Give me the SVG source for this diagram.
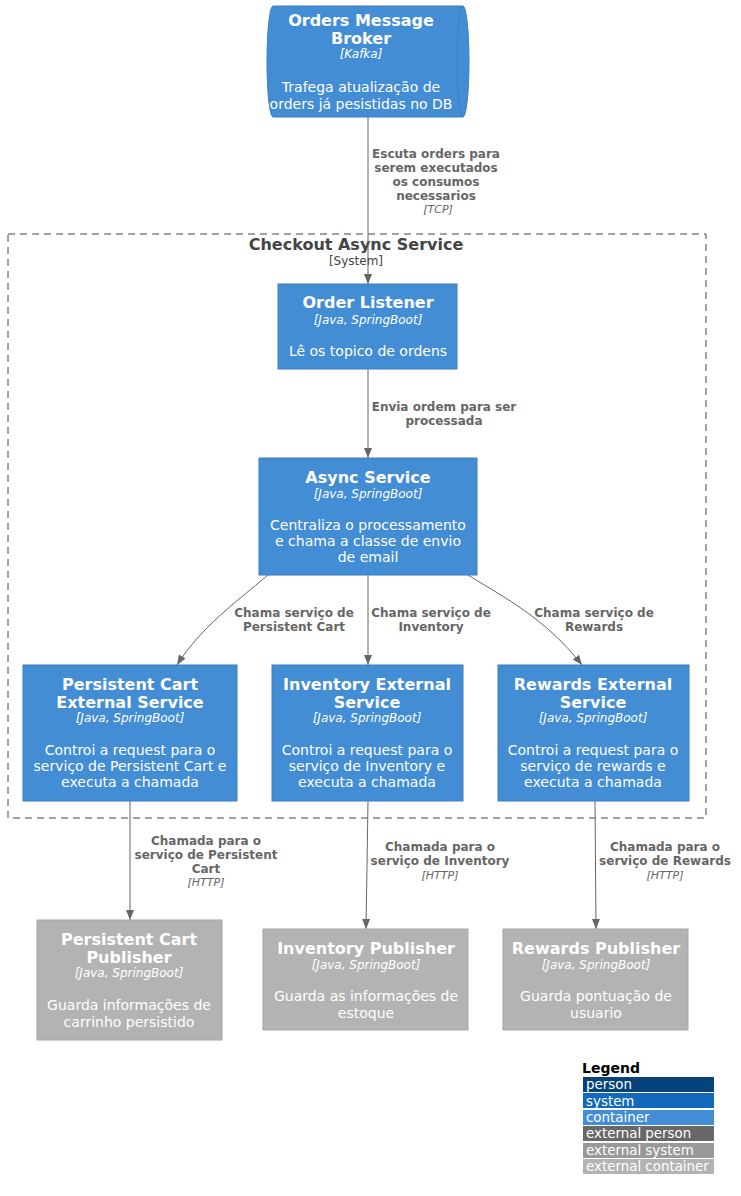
<svg xmlns="http://www.w3.org/2000/svg" width="741" height="1196" viewBox="0 0 741 1196">
<style>
text{font-family:"DejaVu Sans","Liberation Sans",sans-serif;text-anchor:middle}
.c{fill:#438DD5;stroke:#3C7FC0;stroke-width:1}
.x{fill:#B3B3B3;stroke:#A6A6A6;stroke-width:1}
.t{font-size:16px;font-weight:bold;fill:#FFFFFF}
.k{font-size:12px;font-style:italic;fill:#FFFFFF}
.d{font-size:14px;fill:#FFFFFF}
.l{font-size:12px;font-weight:bold;fill:#666666}
.lk{font-size:11px;font-style:italic;fill:#666666}
.e{stroke:#666666;stroke-width:1;fill:none;marker-end:url(#a)}
.lg{font-size:13.4px;fill:#FFFFFF;text-anchor:start}
</style>
<defs>
<marker id="a" viewBox="0 0 10 10" refX="10" refY="5" markerWidth="10" markerHeight="10" markerUnits="userSpaceOnUse" orient="auto">
<path d="M0,1 L10,5 L0,9 Z" fill="#666666"/>
</marker>
</defs>
<rect width="741" height="1196" fill="#FFFFFF"/>

<g id="boundary">
<rect x="8" y="234" width="698" height="584" fill="none" stroke="#444444" stroke-width="1" stroke-dasharray="7,5"/>
<text x="356" y="250" style="font-size:16px;font-weight:bold;fill:#444444">Checkout Async Service</text>
<text x="356" y="265" style="font-size:12px;fill:#444444">[System]</text>
</g>

<g id="connectors">
<line class="e" x1="368" y1="117" x2="368" y2="284"/>
<text class="l" x="436" y="158">Escuta orders para</text>
<text class="l" x="436" y="172">serem executados</text>
<text class="l" x="436" y="186">os consumos</text>
<text class="l" x="436" y="200">necessarios</text>
<text class="lk" x="438" y="213">[TCP]</text>

<line class="e" x1="368" y1="369" x2="368" y2="458"/>
<text class="l" x="444" y="411">Envia ordem para ser</text>
<text class="l" x="444" y="425">processada</text>

<path class="e" d="M268,575 C235,603 200,628 177,665"/>
<text class="l" x="294" y="617">Chama serviço de</text>
<text class="l" x="294" y="631">Persistent Cart</text>

<line class="e" x1="368" y1="575" x2="368" y2="665"/>
<text class="l" x="431" y="617">Chama serviço de</text>
<text class="l" x="431" y="631">Inventory</text>

<path class="e" d="M468,575 C505,598 545,618 582,665"/>
<text class="l" x="594" y="617">Chama serviço de</text>
<text class="l" x="594" y="631">Rewards</text>

<line class="e" x1="130" y1="801" x2="130" y2="920"/>
<text class="l" x="206" y="845">Chamada para o</text>
<text class="l" x="206" y="859">serviço de Persistent</text>
<text class="l" x="206" y="873">Cart</text>
<text class="lk" x="206" y="886">[HTTP]</text>

<line class="e" x1="368" y1="801" x2="366" y2="929"/>
<text class="l" x="440" y="851">Chamada para o</text>
<text class="l" x="440" y="865">serviço de Inventory</text>
<text class="lk" x="440" y="879">[HTTP]</text>

<line class="e" x1="595" y1="801" x2="596" y2="929"/>
<text class="l" x="665" y="851">Chamada para o</text>
<text class="l" x="665" y="865">serviço de Rewards</text>
<text class="lk" x="665" y="879">[HTTP]</text>
</g>

<g id="broker">
<path class="c" d="M273,6 H463 A6,55.5 0 0 1 463,117 H273 A6,55.5 0 0 1 273,6 Z"/>
<path d="M463,6 A6,55.5 0 0 0 463,117" fill="none" stroke="#3C7FC0"/>
<text class="t" x="361" y="26">Orders Message</text>
<text class="t" x="361" y="44">Broker</text>
<text class="k" x="361" y="58">[Kafka]</text>
<text class="d" x="361" y="92">Trafega atualização de</text>
<text class="d" x="361" y="109">orders já pesistidas no DB</text>
</g>

<g id="order-listener">
<rect class="c" x="278" y="284" width="179" height="85"/>
<text class="t" x="368" y="308">Order Listener</text>
<text class="k" x="368" y="324">[Java, SpringBoot]</text>
<text class="d" x="368" y="356">Lê os topico de ordens</text>
</g>

<g id="async-service">
<rect class="c" x="259" y="458" width="218" height="117"/>
<text class="t" x="368" y="483">Async Service</text>
<text class="k" x="368" y="498">[Java, SpringBoot]</text>
<text class="d" x="368" y="530">Centraliza o processamento</text>
<text class="d" x="368" y="546">e chama a classe de envio</text>
<text class="d" x="368" y="562">de email</text>
</g>

<g id="persistent-cart-external">
<rect class="c" x="23" y="665" width="214" height="136"/>
<text class="t" x="130" y="690">Persistent Cart</text>
<text class="t" x="130" y="708">External Service</text>
<text class="k" x="130" y="722">[Java, SpringBoot]</text>
<text class="d" x="130" y="755">Controi a request para o</text>
<text class="d" x="130" y="771">serviço de Persistent Cart e</text>
<text class="d" x="130" y="787">executa a chamada</text>
</g>

<g id="inventory-external">
<rect class="c" x="272" y="665" width="191" height="136"/>
<text class="t" x="367" y="690">Inventory External</text>
<text class="t" x="367" y="708">Service</text>
<text class="k" x="367" y="722">[Java, SpringBoot]</text>
<text class="d" x="367" y="755">Controi a request para o</text>
<text class="d" x="367" y="771">serviço de Inventory e</text>
<text class="d" x="367" y="787">executa a chamada</text>
</g>

<g id="rewards-external">
<rect class="c" x="498" y="665" width="191" height="136"/>
<text class="t" x="593" y="690">Rewards External</text>
<text class="t" x="593" y="708">Service</text>
<text class="k" x="593" y="722">[Java, SpringBoot]</text>
<text class="d" x="593" y="755">Controi a request para o</text>
<text class="d" x="593" y="771">serviço de rewards e</text>
<text class="d" x="593" y="787">executa a chamada</text>
</g>

<g id="persistent-cart-publisher">
<rect class="x" x="37" y="920" width="185" height="120"/>
<text class="t" x="129" y="945">Persistent Cart</text>
<text class="t" x="129" y="963">Publisher</text>
<text class="k" x="129" y="977">[Java, SpringBoot]</text>
<text class="d" x="129" y="1010">Guarda informações de</text>
<text class="d" x="129" y="1027">carrinho persistido</text>
</g>

<g id="inventory-publisher">
<rect class="x" x="263" y="929" width="205" height="101"/>
<text class="t" x="366" y="954">Inventory Publisher</text>
<text class="k" x="366" y="969">[Java, SpringBoot]</text>
<text class="d" x="366" y="1001">Guarda as informações de</text>
<text class="d" x="366" y="1018">estoque</text>
</g>

<g id="rewards-publisher">
<rect class="x" x="503" y="929" width="185" height="101"/>
<text class="t" x="596" y="954">Rewards Publisher</text>
<text class="k" x="596" y="969">[Java, SpringBoot]</text>
<text class="d" x="596" y="1001">Guarda pontuação de</text>
<text class="d" x="596" y="1018">usuario</text>
</g>

<g id="legend">
<text x="582" y="1073" style="font-size:14px;font-weight:bold;fill:#000000;text-anchor:start">Legend</text>
<rect x="583" y="1077" width="131" height="15" fill="#08427B"/>
<text class="lg" x="586" y="1089">person</text>
<rect x="583" y="1093" width="131" height="15" fill="#1168BD"/>
<text class="lg" x="586" y="1106">system</text>
<rect x="583" y="1110" width="131" height="15" fill="#438DD5"/>
<text class="lg" x="586" y="1122">container</text>
<rect x="583" y="1126" width="131" height="15" fill="#686868"/>
<text class="lg" x="586" y="1138">external person</text>
<rect x="583" y="1143" width="131" height="15" fill="#999999"/>
<text class="lg" x="586" y="1155">external system</text>
<rect x="583" y="1159" width="131" height="15" fill="#B3B3B3"/>
<text class="lg" x="586" y="1171">external container</text>
</g>
</svg>
